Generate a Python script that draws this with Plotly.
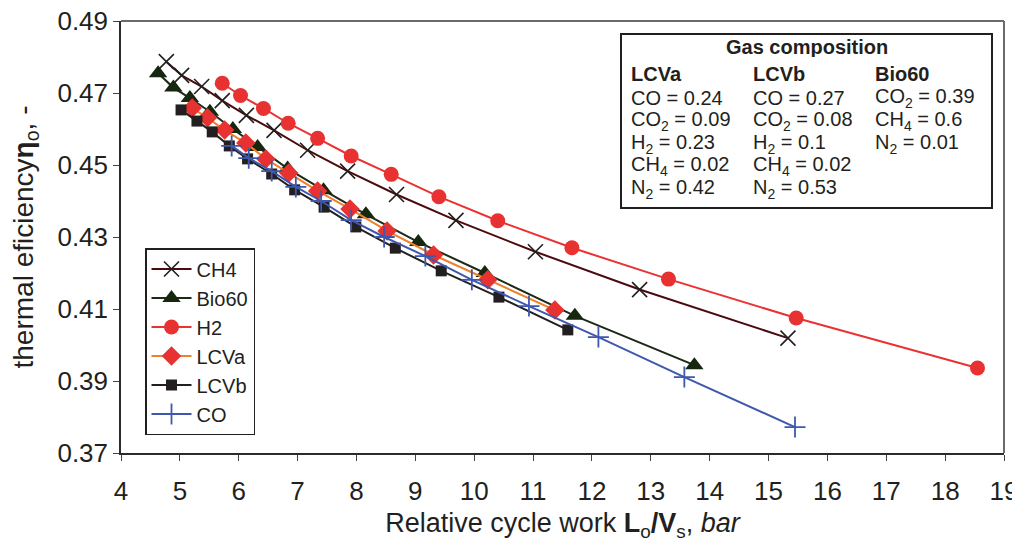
import plotly.graph_objects as go

# ---- data ----
ch4_x = [4.77, 5.03, 5.37, 5.72, 6.13, 6.60, 7.17, 7.85, 8.68, 9.69, 11.04, 12.81, 15.33]
ch4_y = [0.4787, 0.4749, 0.4718, 0.4679, 0.4638, 0.4596, 0.4541, 0.4483, 0.4418, 0.4346, 0.4259, 0.4154, 0.4019]

bio_x = [4.63, 4.89, 5.17, 5.51, 5.90, 6.32, 6.83, 7.44, 8.16, 9.05, 10.18, 11.71, 13.74]
bio_y = [0.4755, 0.4715, 0.4686, 0.4648, 0.4600, 0.4550, 0.4490, 0.4430, 0.4363, 0.4286, 0.4200, 0.4081, 0.3944]

h2_x = [5.72, 6.03, 6.42, 6.84, 7.34, 7.91, 8.59, 9.40, 10.40, 11.66, 13.30, 15.47, 18.55]
h2_y = [0.4727, 0.4693, 0.4657, 0.4616, 0.4574, 0.4525, 0.4474, 0.4412, 0.4345, 0.4270, 0.4183, 0.4075, 0.3936]

lcva_x = [5.21, 5.47, 5.76, 6.12, 6.46, 6.85, 7.34, 7.89, 8.52, 9.31, 10.23, 11.37]
lcva_y = [0.4658, 0.4631, 0.4597, 0.4561, 0.4517, 0.4478, 0.4428, 0.4378, 0.4317, 0.4250, 0.4181, 0.4097]

lcvb_x = [5.02, 5.29, 5.55, 5.84, 6.15, 6.56, 6.95, 7.45, 7.99, 8.66, 9.44, 10.42, 11.59]
lcvb_y = [0.4653, 0.4622, 0.4592, 0.4553, 0.4517, 0.4475, 0.4431, 0.4383, 0.4328, 0.4269, 0.4206, 0.4133, 0.4042]

co_x = [5.88, 6.17, 6.56, 6.97, 7.40, 7.91, 8.47, 9.17, 9.96, 10.93, 12.11, 13.57, 15.45]
co_y = [0.4553, 0.4519, 0.4483, 0.4439, 0.4400, 0.4347, 0.4300, 0.4247, 0.4181, 0.4108, 0.4022, 0.3911, 0.3772]

x_ticks = list(range(4, 20))
y_ticks = [0.37, 0.39, 0.41, 0.43, 0.45, 0.47, 0.49]

box_title = "Gas composition"
comp_headers = ["LCVa", "LCVb", "Bio60"]
comp_lines = [
    ["CO = 0.24", "CO<sub>2</sub> = 0.09", "H<sub>2</sub> = 0.23", "CH<sub>4</sub> = 0.02", "N<sub>2</sub> = 0.42"],
    ["CO = 0.27", "CO<sub>2</sub> = 0.08", "H<sub>2</sub> = 0.1", "CH<sub>4</sub> = 0.02", "N<sub>2</sub> = 0.53"],
    ["CO<sub>2</sub> = 0.39", "CH<sub>4</sub> = 0.6", "N<sub>2</sub> = 0.01"],
]

FONT = "Arial, Liberation Sans, sans-serif"
INK = "#231f20"

fig = go.Figure()

def add(name, xs, ys, line_color, symbol, mcolor, msize, mline_color=None, mline_w=0):
    fig.add_trace(go.Scatter(
        x=xs, y=ys, name=name, mode="lines+markers",
        line=dict(color=line_color, width=2),
        marker=dict(symbol=symbol, size=msize, color=mcolor,
                    line=dict(color=mline_color or mcolor, width=mline_w)),
    ))

add("CH4", ch4_x, ch4_y, "#4b0b0e", "x-thin", INK, 15, INK, 1.6)
add("Bio60", bio_x, bio_y, "#1b2a16", "triangle-up", "#16260f", 16)
add("H2", h2_x, h2_y, "#ea3233", "circle", "#e83131", 15)
add("LCVa", lcva_x, lcva_y, "#f0812a", "diamond", "#e83131", 15)
add("LCVb", lcvb_x, lcvb_y, INK, "square", INK, 11)
add("CO", co_x, co_y, "#3e58ad", "cross-thin", "#3e58ad", 15, "#3e58ad", 1.8)

# the page body has an 8px margin; compensate so the plot sits where the reference's does
OFF = 8
W, H = 1020 - OFF, 542 - OFF
L, R, T, B = 121 - OFF, 16, 21 - OFF, 89
PW, PH = W - L - R, H - T - B

def px_to_paper_y(py):
    return (OFF + H - B - py) / PH

def px_to_paper_x(px):
    return (px - OFF - L) / PW

# top / right frame lines (lighter than the axes)
fig.add_shape(type="line", xref="paper", yref="paper", x0=0, x1=1, y0=1, y1=1,
              line=dict(color="#6a6a6a", width=2))
fig.add_shape(type="line", xref="paper", yref="paper", x0=1, x1=1, y0=0, y1=1,
              line=dict(color="#6a6a6a", width=2))

# composition box
fig.add_shape(type="rect", xref="paper", yref="paper",
              x0=px_to_paper_x(621), x1=px_to_paper_x(992),
              y0=px_to_paper_y(208), y1=px_to_paper_y(34),
              line=dict(color=INK, width=2), fillcolor="white", layer="above")

fig.add_annotation(text="<b>" + box_title + "</b>", xref="paper", yref="paper",
                   x=px_to_paper_x(807), y=px_to_paper_y(47), showarrow=False,
                   xanchor="center", yanchor="middle", height=20, borderpad=0,
                   font=dict(family=FONT, size=20, color=INK))

col_x = [630, 752, 874]
for ci, hdr in enumerate(comp_headers):
    fig.add_annotation(text="<b>" + hdr + "</b>", xref="paper", yref="paper",
                       x=px_to_paper_x(col_x[ci]), y=px_to_paper_y(74), showarrow=False,
                       xanchor="left", yanchor="middle", height=20, borderpad=0,
                       font=dict(family=FONT, size=20, color=INK))
    for li, txt in enumerate(comp_lines[ci]):
        fig.add_annotation(text=txt, xref="paper", yref="paper",
                           x=px_to_paper_x(col_x[ci]), y=px_to_paper_y(98 + 22.8 * li),
                           showarrow=False, xanchor="left", yanchor="middle",
                           height=20, borderpad=0,
                           font=dict(family=FONT, size=20, color=INK))

fig.update_layout(
    width=W, height=H,
    margin=dict(l=L, r=R, t=T, b=B, autoexpand=False),
    paper_bgcolor="white", plot_bgcolor="white",
    font=dict(family=FONT, size=20, color=INK),
    showlegend=True,
    legend=dict(x=px_to_paper_x(145), y=px_to_paper_y(248), xanchor="left", yanchor="top",
                bordercolor=INK, borderwidth=1.5, bgcolor="white",
                font=dict(family=FONT, size=20, color=INK),
                tracegroupgap=0, itemwidth=40),
    xaxis=dict(range=[4, 19], tickvals=x_ticks, ticks="outside", ticklen=6,
               ticklabelstandoff=8, ticklabeloverflow="allow",
               showgrid=False, zeroline=False, showline=True, linecolor="#2b2b2b",
               linewidth=1.5, mirror=False, automargin=False,
               tickfont=dict(family=FONT, size=26),
               title=dict(text="Relative cycle work <b>L</b><sub>o</sub><b>/V</b><sub>s</sub>, <i>bar</i>",
                          font=dict(family=FONT, size=27), standoff=13)),
    yaxis=dict(range=[0.37, 0.49], tickvals=y_ticks, tickformat=".2f", ticks="outside",
               ticklen=6, ticklabeloverflow="allow",
               showgrid=False, zeroline=False, showline=True,
               linecolor="#2b2b2b", linewidth=1.5, mirror=False, automargin=False,
               tickfont=dict(family=FONT, size=26),
               title=dict(text="thermal eficiency<b>η</b><sub>o</sub>, -",
                          font=dict(family=FONT, size=28), standoff=22)),
)

fig.write_html("out.html")
